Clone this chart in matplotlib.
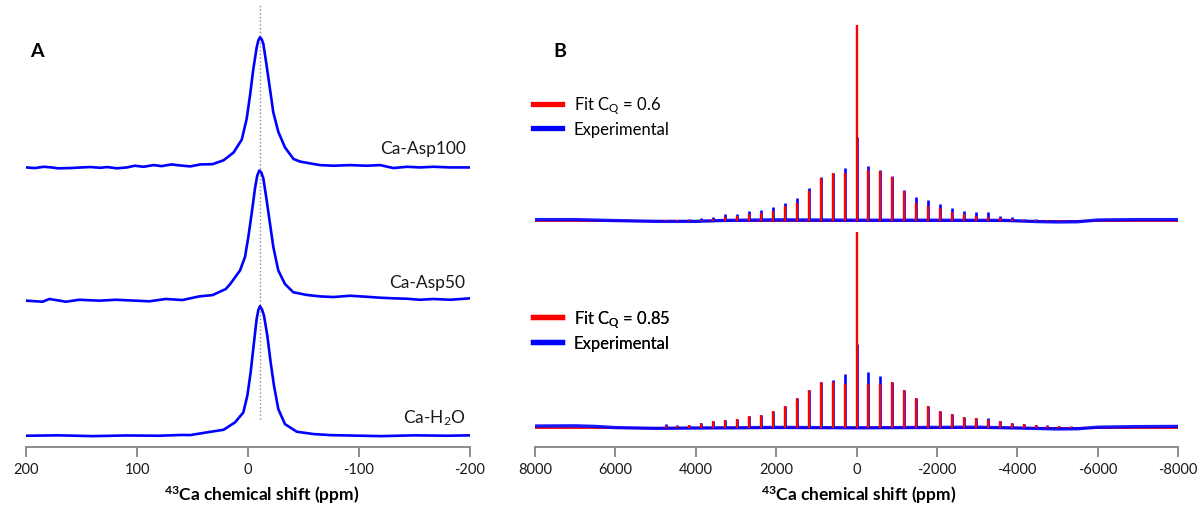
import matplotlib
matplotlib.use("Agg")
import matplotlib.pyplot as plt
from matplotlib.lines import Line2D

plt.rcParams["font.family"] = ["Lato", "DejaVu Sans"]
plt.rcParams["mathtext.fontset"] = "custom"
plt.rcParams["mathtext.rm"] = "Lato"
plt.rcParams["mathtext.it"] = "Lato:italic"
plt.rcParams["mathtext.bf"] = "Lato:bold"
plt.rcParams["axes.unicode_minus"] = False

BLUE = "#0000ff"
RED = "#ff0000"
GREY = "#858585"

# ── Panel A: 43Ca MAS spectra (ppm, normalised intensity) ──
asp100_ppm = [200, 192, 184, 177, 171, 160, 150, 142, 133, 127, 118, 109, 102, 94,
              85, 78, 69, 61, 52, 43, 32, 22, 13, 5.6, 1.2, -1.8, -4.8, -7.8, -9.3,
              -10.8, -12.3, -13.8, -16.8, -19.8, -22.8, -27.3, -33.3, -41, -47, -56,
              -65, -77, -92, -107, -119, -131, -143, -155, -167, -182, -200]
asp100_int = [-0.005, -0.01, 0.0, -0.005, -0.012, -0.01, -0.005, -0.002, -0.008,
              -0.002, -0.012, -0.005, 0.008, 0.0, 0.013, 0.005, 0.018, 0.01, 0.003,
              0.018, 0.02, 0.05, 0.11, 0.21, 0.37, 0.55, 0.755, 0.92, 0.975, 1.0,
              0.985, 0.95, 0.78, 0.60, 0.42, 0.27, 0.15, 0.06, 0.04, 0.026, 0.013,
              0.008, 0.013, 0.008, 0.013, -0.01, 0.0, -0.005, 0.0, -0.005, -0.005]

asp50_ppm = [200, 185, 179, 164, 152, 134, 119, 104, 89, 74, 59, 44, 32, 20, 16,
             7.2, 2.7, -0.3, -3.3, -6.3, -8.3, -10.2, -12, -13.8, -16.8, -19.8,
             -22.8, -27.3, -33.3, -40.8, -53, -65, -77, -92, -107, -119, -131, -143,
             -155, -167, -182, -200]
asp50_int = [-0.005, -0.013, 0.008, -0.013, 0.002, -0.005, 0.002, -0.004, -0.01,
             0.008, 0.0, 0.028, 0.038, 0.085, 0.124, 0.228, 0.332, 0.487, 0.668,
             0.862, 0.96, 1.0, 0.985, 0.94, 0.771, 0.59, 0.41, 0.228, 0.124, 0.06,
             0.039, 0.028, 0.023, 0.033, 0.025, 0.018, 0.013, 0.01, 0.002, 0.008,
             0.002, 0.013]

h2o_ppm = [200, 170, 140, 110, 80, 60, 52, 37, 22, 11.7, 4.2, 0.6, -2.4, -5.4,
           -7.8, -9.3, -10.8, -12.6, -14.4, -17.4, -20.4, -23.4, -27.3, -33.3, -43.9,
           -59, -74, -90, -120, -150, -180, -200]
h2o_int = [0.0, 0.003, -0.003, 0.002, 0.0, 0.006, 0.005, 0.026, 0.046, 0.103, 0.18,
           0.309, 0.49, 0.722, 0.902, 0.97, 1.0, 0.975, 0.928, 0.773, 0.567, 0.387,
           0.206, 0.09, 0.031, 0.013, 0.005, 0.002, -0.003, 0.003, 0.0, 0.003]

sample_names = ["Ca-Asp100", "Ca-Asp50", "Ca-H$_2$O"]
peak_ppm = -10.5

# ── Panel B: spinning sideband manifolds (ppm, intensity, centreband = 100) ──
sb_ppm = [4752, 4455, 4158, 3861, 3564, 3267, 2970, 2673, 2376, 2079, 1782, 1485,
          1188, 891, 594, 297, 0, -297, -594, -891, -1188, -1485, -1782, -2079,
          -2376, -2673, -2970, -3267, -3564, -3861, -4158, -4455, -4752, -5049,
          -5346]

fit06 = [0.2, 0.3, 0.4, 0.5, 1.0, 1.7, 2.6, 3.4, 4.2, 5.1, 7.7, 9.3, 15.3, 21.8,
         24.3, 24.6, 100, 25.9, 25.5, 22.4, 15.0, 9.0, 7.3, 6.5, 4.6, 3.4, 2.2, 1.7,
         1.2, 1.0, 0.5, 0.4, 0.3, 0.2, 0.1]
exp_top = [0.5, 0.6, 0.8, 1.2, 1.7, 3.4, 3.4, 5.1, 5.6, 6.8, 9.3, 11.4, 16.5, 22.4,
           24.6, 26.9, 43, 27.9, 26.0, 23.0, 15.8, 11.9, 10.6, 8.4, 6.3, 4.9, 4.6,
           4.3, 2.6, 2.0, 1.0, 0.8, 0.6, 0.5, 0.5]

fit085 = [1.0, 1.4, 1.9, 2.7, 3.6, 4.2, 4.7, 6.1, 7.0, 8.7, 11.2, 15.5, 19.5, 23.5,
          23.8, 22.6, 100, 22.6, 22.6, 23.5, 19.4, 15.3, 11.6, 9.0, 7.3, 6.0, 5.1,
          4.4, 3.6, 2.7, 2.2, 1.7, 1.4, 1.0, 0.8]
exp_bot = [2.2, 1.6, 1.9, 2.7, 3.6, 4.2, 4.7, 6.1, 7.0, 8.7, 11.2, 15.5, 19.5, 23.5,
           24.5, 27.7, 43, 28.6, 26.5, 23.5, 19.4, 15.3, 11.6, 9.0, 7.3, 6.0, 5.4,
           5.3, 3.6, 2.7, 2.2, 1.7, 1.5, 1.2, 1.0]

# experimental baseline drift
drift_top_ppm = [8000, 7000, 6200, 5000, 4000, 3300, 2000, 0, -2000, -3700, -4500,
                 -5000, -5500, -6000, -7000, -8000]
drift_top = [0.6, 0.6, 0.2, -0.3, -0.3, 0.2, 0.5, 0.3, 0.3, 0.2, -0.4, -0.6, -0.5,
             0.4, 0.6, 0.6]
drift_bot_ppm = [8000, 7000, 6500, 6000, 5000, 4000, 3000, 2000, 0, -2000, -3000,
                 -4000, -5000, -5500, -6000, -7000, -8000]
drift_bot = [1.2, 1.3, 1.0, 0.4, 0.0, 0.2, 0.3, 0.5, 0.3, 0.5, 0.6, 0.2, -0.3, -0.2,
             0.6, 0.9, 1.0]

fit_labels = ["Fit C$_\\mathrm{Q}$ = 0.6", "Fit C$_\\mathrm{Q}$ = 0.85"]

# ── Figure ──
W, H = 1200, 506
fig = plt.figure(figsize=(W / 100, H / 100), dpi=100)
axA = fig.add_axes([26 / W, (H - 448) / H, 444 / W, 443 / H])
axB = fig.add_axes([535 / W, (H - 448) / H, 643 / W, 443 / H])


def style_axis(ax):
    for s in ("left", "top", "right"):
        ax.spines[s].set_visible(False)
    ax.spines["bottom"].set_color(GREY)
    ax.spines["bottom"].set_linewidth(1.3)
    ax.set_yticks([])
    ax.tick_params(axis="x", direction="out", length=7, width=1.3, color=GREY,
                   labelsize=10.5, labelcolor="#1a1a1a", pad=4)


# Panel A
offsets_A = [2.077, 1.048, 0.0]
label_y_A = [2.183, 1.146, 0.103]
for ppm, inten, off, name, ly in zip([asp100_ppm, asp50_ppm, h2o_ppm],
                                     [asp100_int, asp50_int, h2o_int],
                                     offsets_A, sample_names, label_y_A):
    axA.plot(ppm, [v + off for v in inten], color=BLUE, lw=1.9,
             solid_joinstyle="round")
    axA.text(-196, ly, name, ha="right", va="baseline", fontsize=12.5,
             color="#1a1a1a")
axA.axvline(peak_ppm, ymin=0.063, ymax=1.0, color="#8c8c8c", ls=":", lw=1.0,
            zorder=0)
axA.set_xlim(200, -200)
axA.set_ylim(-0.087, 3.334)
axA.set_xticks([200, 100, 0, -100, -200])
style_axis(axA)

# Panel B
offsets_B = [105.9, 0.0]
for off, fit, exp_, dppm, dval in [(offsets_B[0], fit06, exp_top, drift_top_ppm, drift_top),
                                   (offsets_B[1], fit085, exp_bot, drift_bot_ppm, drift_bot)]:
    axB.hlines(off, 8000, -8000, color=RED, lw=1.3)
    axB.plot(dppm, [v + off for v in dval], color=BLUE, lw=2.4, alpha=0.9)
    axB.vlines(sb_ppm, off, [v + off for v in exp_], color=BLUE, lw=1.9)
    axB.vlines(sb_ppm, off, [v + off for v in fit], color=RED, lw=1.7)
axB.set_xlim(8000, -8000)
axB.set_ylim(-9.5, 216.5)
axB.set_xticks([8000, 6000, 4000, 2000, 0, -2000, -4000, -6000, -8000])
style_axis(axB)

for lab, ycen in zip(fit_labels, [117, 330.5]):
    handles = [Line2D([], [], color=RED, lw=3.8), Line2D([], [], color=BLUE, lw=3.8)]
    leg = axB.legend(handles, [lab, "Experimental"], loc="center left",
                     bbox_to_anchor=(533 / W, 1 - ycen / H),
                     bbox_transform=fig.transFigure, frameon=False, fontsize=12,
                     handlelength=1.75, handletextpad=0.7, labelspacing=0.3,
                     borderpad=0, borderaxespad=0)
    axB.add_artist(leg)

# panel letters and axis titles
fig.text(30 / W, 1 - 57.3 / H, "A", fontsize=14, fontweight="bold", va="baseline")
fig.text(553 / W, 1 - 57.3 / H, "B", fontsize=14, fontweight="bold", va="baseline")
xlab = "$\\mathbf{^{43}}$Ca chemical shift (ppm)"
fig.text(262 / W, 1 - 495 / H, xlab, ha="center", va="center", fontsize=12.5,
         fontweight="bold")
fig.text(858.6 / W, 1 - 495 / H, xlab, ha="center", va="center", fontsize=12.5,
         fontweight="bold")

fig.savefig("out.png", dpi=100)
